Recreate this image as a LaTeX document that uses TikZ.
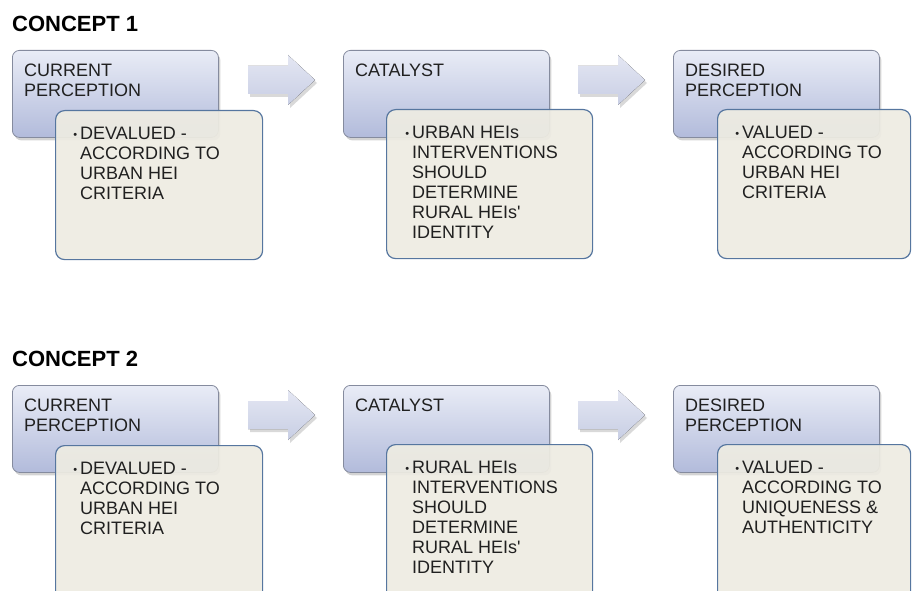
\documentclass[tikz,border=0pt]{standalone}
\usepackage{fontspec}
\setmainfont{Liberation Sans}
\usetikzlibrary{positioning,shadows}
\definecolor{cpTop}{HTML}{E9ECF6}
\definecolor{cpBot}{HTML}{B2BBDB}
\definecolor{cpEdge}{HTML}{858B9E}
\definecolor{cpPaper}{HTML}{EEECE2}
\definecolor{cpBlue}{HTML}{56769F}
\definecolor{cpArrA}{HTML}{E4E7F3}
\definecolor{cpArrB}{HTML}{C8CEE4}
\definecolor{cpInk}{HTML}{202020}
\newcommand{\bul}{\llap{\raisebox{1.5pt}{\fontsize{11}{11}\selectfont\textbullet}\hspace{3pt}}}

\begin{document}
\begin{tikzpicture}[x=1pt,y=-1pt,
    ttl/.style={anchor=north west,inner sep=0pt,font=\fontsize{22}{26}\selectfont\bfseries,text=black},
    head/.style={rectangle,rounded corners=7pt,draw=cpEdge,line width=0.8pt,
                 top color=cpTop,bottom color=cpBot,anchor=north west,inner sep=0pt,
                 minimum width=206pt,minimum height=87pt,
                 drop shadow={shadow xshift=2pt,shadow yshift=-3pt,opacity=0.35}},
    note/.style={rectangle,rounded corners=9pt,draw=cpBlue,line width=1.2pt,
                 fill=cpPaper,fill opacity=0.92,anchor=north west,inner sep=0pt,
                 minimum height=149pt},
    htext/.style={inner sep=0pt,align=left,font=\fontsize{18}{20}\selectfont,text=cpInk},
    blockarr/.style={top color=cpArrA,bottom color=cpArrB,draw=none,
                 drop shadow={shadow xshift=2pt,shadow yshift=-3pt,opacity=0.3}}]

  \useasboundingbox (0,0) rectangle (912,591);

  % concept 1
  \node[ttl] (t1) at (12,16) {CONCEPT 1};
  \node[head] (cur1) at (12,50) {};
  \node[head] (cat1) at (343,50) {};
  \node[head] (des1) at (673,50) {};

  % block arrows between the steps
  \foreach \ax/\ay in {248/80,578/80,248/415,578/415}
    \fill[blockarr] (\ax,\ay-14) -- ++(40,0) -- ++(0,-11) -- ++(27,25)
      -- ++(-27,25) -- ++(0,-11) -- ++(-40,0) -- cycle;

  \node[note,minimum width=207pt] (curn1) at (55,110) {};
  \node[note,minimum width=206pt] (catn1) at (386,109) {};
  \node[note,minimum width=193pt] (desn1) at (717,109) {};

  \node[htext,below right=14pt and 12pt of cur1.north west] (curt1) {CURRENT\\PERCEPTION};
  \node[htext,below right=14pt and 12pt of cat1.north west] (catt1) {CATALYST};
  \node[htext,below right=14pt and 12pt of des1.north west] (dest1) {DESIRED\\PERCEPTION};

  \node[htext,below right=17pt and 25pt of curn1.north west] (curnt1)
    {\bul DEVALUED -\\ACCORDING TO\\URBAN HEI\\CRITERIA};
  \node[htext,below right=17pt and 26pt of catn1.north west] (catnt1)
    {\bul URBAN HEIs\\INTERVENTIONS\\SHOULD\\DETERMINE\\RURAL HEIs\textquotesingle\\IDENTITY};
  \node[htext,below right=17pt and 25pt of desn1.north west] (desnt1)
    {\bul VALUED -\\ACCORDING TO\\URBAN HEI\\CRITERIA};

  % concept 2
  \node[ttl] (t2) at (12,351) {CONCEPT 2};
  \node[head] (cur2) at (12,385) {};
  \node[head] (cat2) at (343,385) {};
  \node[head] (des2) at (673,385) {};

  \node[note,minimum width=207pt,minimum height=170pt] (curn2) at (55,445) {};
  \node[note,minimum width=206pt,minimum height=170pt] (catn2) at (386,444) {};
  \node[note,minimum width=193pt,minimum height=170pt] (desn2) at (717,444) {};

  \node[htext,below right=14pt and 12pt of cur2.north west] (curt2) {CURRENT\\PERCEPTION};
  \node[htext,below right=14pt and 12pt of cat2.north west] (catt2) {CATALYST};
  \node[htext,below right=14pt and 12pt of des2.north west] (dest2) {DESIRED\\PERCEPTION};

  \node[htext,below right=17pt and 25pt of curn2.north west] (curnt2)
    {\bul DEVALUED -\\ACCORDING TO\\URBAN HEI\\CRITERIA};
  \node[htext,below right=17pt and 26pt of catn2.north west] (catnt2)
    {\bul RURAL HEIs\\INTERVENTIONS\\SHOULD\\DETERMINE\\RURAL HEIs\textquotesingle\\IDENTITY};
  \node[htext,below right=17pt and 25pt of desn2.north west] (desnt2)
    {\bul VALUED -\\ACCORDING TO\\UNIQUENESS \&\\AUTHENTICITY};
\end{tikzpicture}
\end{document}
